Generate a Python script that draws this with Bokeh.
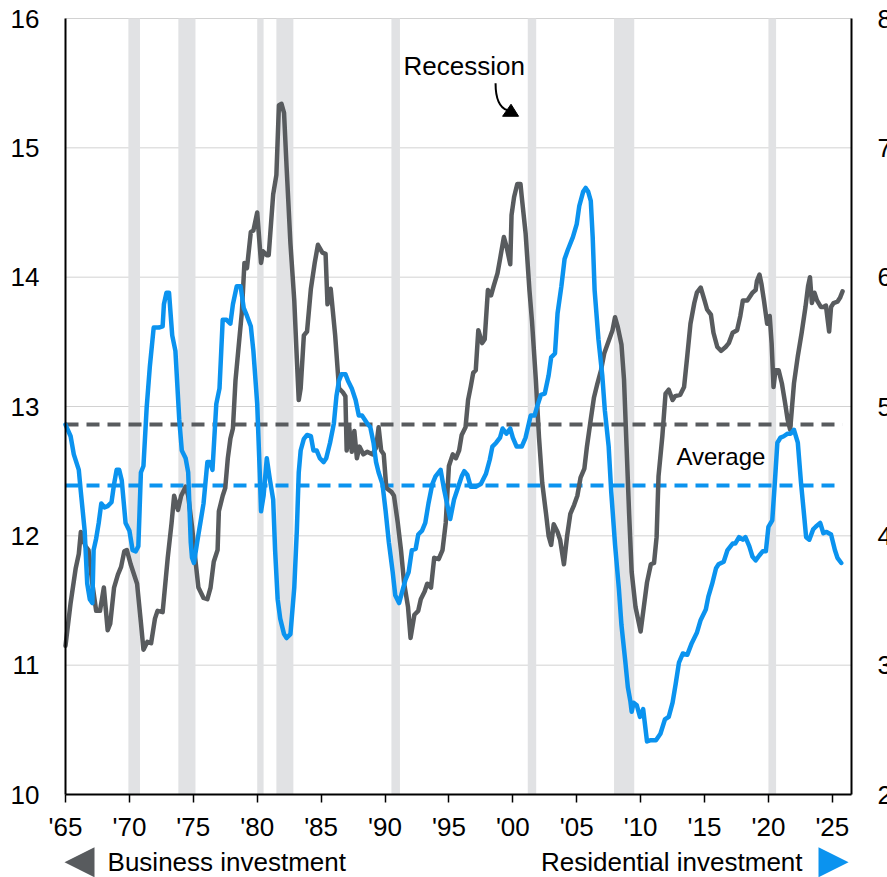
from bokeh.plotting import figure
from bokeh.models import Range1d, LinearAxis, FixedTicker, Label
from bokeh.embed import file_html
from bokeh.resources import INLINE

# ---------------- data ----------------
bus_years = [1965.0, 1965.4, 1965.8, 1966.04, 1966.2, 1966.56, 1966.8, 1967.1, 1967.4, 1967.7,
             1968.0, 1968.3, 1968.5, 1968.8, 1969.1, 1969.35, 1969.6, 1969.8, 1970.1, 1970.6,
             1970.9, 1971.1, 1971.4, 1971.7, 1972.0, 1972.2, 1972.6, 1973.0, 1973.3, 1973.5,
             1973.8, 1974.05, 1974.4, 1974.6, 1974.9, 1975.2, 1975.4, 1975.8, 1976.1, 1976.35,
             1976.6, 1976.9, 1977.0, 1977.3, 1977.5, 1977.7, 1977.9, 1978.1, 1978.3, 1978.6,
             1978.8, 1979.0, 1979.2, 1979.5, 1979.7, 1980.0, 1980.3, 1980.45, 1980.75, 1980.9,
             1981.25, 1981.5, 1981.7, 1981.9, 1982.1, 1982.3, 1982.6, 1982.9, 1983.1, 1983.25,
             1983.4, 1983.65, 1983.9, 1984.2, 1984.5, 1984.75, 1985.1, 1985.35, 1985.5, 1985.75,
             1986.1, 1986.4, 1986.7, 1986.9, 1987.0, 1987.2, 1987.4, 1987.6, 1987.8, 1988.0,
             1988.3, 1988.6, 1989.0, 1989.3, 1989.5, 1989.7, 1989.9, 1990.1, 1990.5, 1990.7,
             1991.0, 1991.25, 1991.5, 1991.8, 1992.0, 1992.3, 1992.6, 1992.8, 1993.1, 1993.3,
             1993.6, 1993.85, 1994.2, 1994.5, 1994.75, 1995.0, 1995.3, 1995.55, 1995.8, 1996.0,
             1996.3, 1996.5, 1996.7, 1996.9, 1997.1, 1997.3, 1997.6, 1997.8, 1998.05, 1998.3,
             1998.5, 1998.8, 1999.0, 1999.3, 1999.5, 1999.8, 1999.9, 2000.1, 2000.35, 2000.6,
             2000.7, 2001.0, 2001.3, 2001.5, 2001.8, 2002.05, 2002.3, 2002.6, 2002.8, 2003.0,
             2003.2, 2003.5, 2003.7, 2004.0, 2004.25, 2004.5, 2004.8, 2005.05, 2005.3, 2005.6,
             2005.8, 2006.1, 2006.35, 2006.6, 2006.9, 2007.15, 2007.4, 2007.8, 2008.0, 2008.2,
             2008.5, 2008.7, 2008.9, 2009.1, 2009.3, 2009.6, 2010.0, 2010.25, 2010.5, 2010.8,
             2011.05, 2011.25, 2011.4, 2011.7, 2011.95, 2012.2, 2012.5, 2012.7, 2013.1, 2013.4,
             2013.65, 2013.9, 2014.2, 2014.4, 2014.7, 2015.0, 2015.2, 2015.5, 2015.7, 2016.0,
             2016.3, 2016.65, 2016.9, 2017.2, 2017.55, 2017.8, 2018.0, 2018.35, 2018.75, 2019.0,
             2019.1, 2019.3, 2019.45, 2019.65, 2019.9, 2020.1, 2020.25, 2020.4, 2020.55, 2020.8,
             2021.05, 2021.3, 2021.5, 2021.7, 2021.85, 2022.0, 2022.3, 2022.6, 2022.9, 2023.1,
             2023.25, 2023.4, 2023.6, 2023.8, 2024.1, 2024.3, 2024.5, 2024.75, 2024.9, 2025.1,
             2025.4, 2025.6, 2025.8]
business = [11.15, 11.48, 11.75, 11.86, 12.03, 11.92, 11.89, 11.63, 11.42, 11.42,
            11.60, 11.27, 11.32, 11.60, 11.70, 11.76, 11.88, 11.89, 11.78, 11.63,
            11.33, 11.12, 11.18, 11.17, 11.36, 11.42, 11.41, 11.83, 12.10, 12.31,
            12.20, 12.31, 12.38, 12.31, 12.07, 11.78, 11.60, 11.52, 11.51, 11.60,
            11.80, 11.89, 12.19, 12.31, 12.37, 12.60, 12.75, 12.83, 13.20, 13.52,
            13.73, 14.11, 14.07, 14.35, 14.36, 14.50, 14.11, 14.20, 14.17, 14.17,
            14.64, 14.79, 15.33, 15.34, 15.27, 14.85, 14.26, 13.82, 13.37, 13.05,
            13.14, 13.55, 13.58, 13.91, 14.11, 14.25, 14.19, 14.18, 13.79, 13.91,
            13.55, 13.14, 13.11, 13.08, 12.66, 12.84, 12.65, 12.81, 12.60, 12.69,
            12.63, 12.65, 12.63, 12.68, 12.84, 12.66, 12.63, 12.37, 12.34, 12.31,
            12.10, 11.89, 11.63, 11.45, 11.21, 11.39, 11.42, 11.51, 11.57, 11.63,
            11.60, 11.83, 11.82, 11.89, 12.10, 12.54, 12.63, 12.60, 12.66, 12.78,
            12.84, 13.05, 13.15, 13.26, 13.28, 13.59, 13.49, 13.52, 13.90, 13.86,
            13.93, 14.03, 14.14, 14.31, 14.24, 14.10, 14.48, 14.62, 14.72, 14.72,
            14.62, 14.34, 13.90, 13.66, 13.21, 12.76, 12.41, 12.17, 12.00, 11.93,
            12.09, 12.03, 11.97, 11.78, 12.00, 12.17, 12.24, 12.31, 12.45, 12.52,
            12.69, 12.90, 13.07, 13.17, 13.28, 13.41, 13.48, 13.59, 13.69, 13.62,
            13.48, 13.21, 12.69, 12.17, 11.72, 11.45, 11.26, 11.45, 11.64, 11.78,
            11.79, 11.99, 12.46, 12.77, 13.10, 13.13, 13.05, 13.08, 13.09, 13.15,
            13.39, 13.64, 13.80, 13.88, 13.92, 13.82, 13.75, 13.71, 13.57, 13.46,
            13.43, 13.46, 13.49, 13.57, 13.59, 13.70, 13.82, 13.82, 13.88, 13.90,
            13.97, 14.02, 13.95, 13.82, 13.64, 13.70, 13.49, 13.15, 13.28, 13.28,
            13.18, 13.03, 12.90, 12.82, 13.00, 13.18, 13.39, 13.57, 13.77, 13.93,
            14.00, 13.80, 13.88, 13.82, 13.77, 13.77, 13.78, 13.58, 13.77, 13.80,
            13.81, 13.84, 13.89]

res_years = [1965.0, 1965.4, 1965.65, 1966.04, 1966.2, 1966.5, 1966.7, 1966.9, 1967.1, 1967.2,
             1967.4, 1967.6, 1967.8, 1968.05, 1968.3, 1968.6, 1968.8, 1969.0, 1969.2, 1969.4,
             1969.7, 1970.0, 1970.25, 1970.5, 1970.7, 1970.9, 1971.1, 1971.35, 1971.6, 1971.9,
             1972.3, 1972.6, 1972.7, 1972.9, 1973.1, 1973.35, 1973.6, 1973.9, 1974.1, 1974.4,
             1974.6, 1974.8, 1974.9, 1975.05, 1975.3, 1975.6, 1975.8, 1976.1, 1976.3, 1976.5,
             1976.8, 1977.05, 1977.3, 1977.6, 1977.9, 1978.1, 1978.4, 1978.7, 1978.95, 1979.2,
             1979.5, 1979.7, 1980.0, 1980.2, 1980.3, 1980.5, 1980.75, 1981.0, 1981.25, 1981.4,
             1981.6, 1981.8, 1982.1, 1982.3, 1982.6, 1982.9, 1983.1, 1983.25, 1983.4, 1983.65,
             1983.9, 1984.2, 1984.4, 1984.65, 1984.9, 1985.2, 1985.4, 1985.7, 1986.0, 1986.2,
             1986.4, 1986.6, 1986.9, 1987.1, 1987.4, 1987.7, 1987.95, 1988.2, 1988.6, 1988.85,
             1989.1, 1989.3, 1989.5, 1989.8, 1990.05, 1990.3, 1990.6, 1990.8, 1991.1, 1991.35,
             1991.6, 1991.85, 1992.1, 1992.4, 1992.6, 1992.9, 1993.15, 1993.4, 1993.7, 1993.95,
             1994.35, 1994.6, 1994.85, 1995.1, 1995.4, 1995.7, 1996.0, 1996.2, 1996.45, 1996.7,
             1997.1, 1997.5, 1997.9, 1998.2, 1998.4, 1998.7, 1999.0, 1999.2, 1999.5, 1999.8,
             2000.0, 2000.3, 2000.7, 2001.0, 2001.4, 2001.7, 2001.9, 2002.2, 2002.5, 2002.8,
             2003.0, 2003.3, 2003.5, 2003.8, 2004.05, 2004.3, 2004.7, 2005.0, 2005.2, 2005.5,
             2005.7, 2005.9, 2006.1, 2006.25, 2006.4, 2006.7, 2007.0, 2007.2, 2007.5, 2007.7,
             2008.0, 2008.3, 2008.5, 2008.8, 2009.0, 2009.2, 2009.3, 2009.45, 2009.7, 2009.95,
             2010.2, 2010.5, 2010.8, 2011.2, 2011.55, 2011.9, 2012.2, 2012.5, 2012.75, 2013.0,
             2013.3, 2013.65, 2014.0, 2014.4, 2014.7, 2015.1, 2015.3, 2015.6, 2015.9, 2016.1,
             2016.5, 2016.8, 2017.2, 2017.4, 2017.7, 2018.0, 2018.2, 2018.5, 2018.75, 2019.0,
             2019.3, 2019.55, 2019.8, 2020.0, 2020.3, 2020.5, 2020.7, 2020.95, 2021.2, 2021.5,
             2021.75, 2022.0, 2022.3, 2022.55, 2022.8, 2022.95, 2023.2, 2023.5, 2023.7, 2024.05,
             2024.3, 2024.55, 2024.9, 2025.2, 2025.4, 2025.7]
residential = [4.86, 4.77, 4.63, 4.51, 4.34, 4.04, 3.63, 3.51, 3.48, 3.89,
               3.98, 4.10, 4.25, 4.22, 4.23, 4.26, 4.40, 4.51, 4.51, 4.43,
               4.10, 4.04, 3.89, 3.88, 3.92, 4.49, 4.54, 4.99, 5.31, 5.61,
               5.61, 5.62, 5.79, 5.88, 5.88, 5.55, 5.43, 4.90, 4.66, 4.60,
               4.49, 3.95, 3.83, 3.79, 3.95, 4.13, 4.25, 4.57, 4.57, 4.51,
               5.02, 5.14, 5.67, 5.67, 5.64, 5.79, 5.93, 5.93, 5.76, 5.70,
               5.62, 5.43, 5.02, 4.49, 4.19, 4.31, 4.60, 4.43, 4.28, 3.89,
               3.51, 3.36, 3.24, 3.21, 3.24, 3.60, 4.04, 4.49, 4.66, 4.75,
               4.78, 4.77, 4.66, 4.66, 4.60, 4.57, 4.60, 4.72, 4.87, 5.08,
               5.20, 5.25, 5.25, 5.20, 5.14, 5.05, 4.93, 4.93, 4.87, 4.84,
               4.72, 4.57, 4.49, 4.40, 4.19, 3.95, 3.72, 3.54, 3.48, 3.57,
               3.66, 3.72, 3.89, 3.90, 4.01, 4.04, 4.10, 4.25, 4.40, 4.46,
               4.51, 4.37, 4.25, 4.13, 4.28, 4.37, 4.46, 4.50, 4.47, 4.38,
               4.38, 4.40, 4.48, 4.59, 4.69, 4.72, 4.76, 4.83, 4.79, 4.83,
               4.76, 4.69, 4.69, 4.76, 4.93, 4.93, 5.00, 5.09, 5.10, 5.24,
               5.38, 5.41, 5.72, 5.93, 6.14, 6.21, 6.31, 6.41, 6.55, 6.66,
               6.69, 6.66, 6.59, 6.31, 5.90, 5.52, 5.24, 4.97, 4.69, 4.34,
               3.93, 3.59, 3.31, 3.03, 2.83, 2.72, 2.64, 2.71, 2.69, 2.60,
               2.66, 2.41, 2.42, 2.42, 2.47, 2.58, 2.60, 2.71, 2.86, 3.02,
               3.09, 3.08, 3.17, 3.25, 3.35, 3.43, 3.53, 3.63, 3.75, 3.78,
               3.80, 3.89, 3.94, 3.94, 3.99, 3.97, 3.99, 3.92, 3.84, 3.81,
               3.85, 3.88, 3.88, 4.07, 4.12, 4.41, 4.72, 4.76, 4.77, 4.79,
               4.79, 4.82, 4.72, 4.41, 4.15, 3.99, 3.97, 4.05, 4.07, 4.10,
               4.02, 4.03, 4.01, 3.89, 3.83, 3.79]

business_avg = 12.86
residential_avg = 4.39

rec_start = [1969.92, 1973.83, 1980.0, 1981.5, 1990.5, 2001.17, 2007.92, 2020.0]
rec_end = [1970.83, 1975.17, 1980.5, 1982.83, 1991.17, 2001.83, 2009.5, 2020.6]

x_ticks = [1965, 1970, 1975, 1980, 1985, 1990, 1995, 2000, 2005, 2010, 2015, 2020, 2025]
x_tick_labels = ["'65", "'70", "'75", "'80", "'85", "'90", "'95", "'00", "'05", "'10", "'15", "'20", "'25"]
left_ticks = [10, 11, 12, 13, 14, 15, 16]
right_ticks = [2, 3, 4, 5, 6, 7, 8]

# ---------------- layout / styles ----------------
X_MIN, X_MAX = 1965, 2026.5          # plotted x extent (axis bounds)
Y_MIN, Y_MAX = 10, 16                # left axis extent
R_OFFSET = 8                         # right axis = left axis - 8
PX_X = 786 / (X_MAX - X_MIN)         # pixels per year
PX_Y = 776 / (Y_MAX - Y_MIN)         # pixels per unit
W, H = 887, 877
LEFT, TOP = 65, 18
x0 = X_MIN - LEFT / PX_X
x1 = X_MAX + (W - LEFT - 786) / PX_X
y1 = Y_MAX + TOP / PX_Y
y0 = Y_MAX - (H - TOP) / PX_Y

GRAY = "#585b5e"
BLUE = "#0b93ef"
BAND = "#e1e2e4"
FONT = "Liberation Sans"

p = figure(width=W, height=H,
           x_range=Range1d(x0, x1), y_range=Range1d(y0, y1),
           output_backend="svg", toolbar_location=None, min_border=0)
p.outline_line_color = None
p.background_fill_color = "white"
p.border_fill_color = "white"
p.extra_y_ranges = {"right": Range1d(y0 - R_OFFSET, y1 - R_OFFSET)}
p.xgrid.visible = False
p.ygrid.visible = False

right_axis = LinearAxis(y_range_name="right")
p.add_layout(right_axis, "right")

left_axis = p.yaxis[0]
left_axis.fixed_location = X_MIN
left_axis.bounds = (Y_MIN, Y_MAX)
left_axis.ticker = FixedTicker(ticks=left_ticks)
left_axis.major_label_standoff = 20
right_axis.fixed_location = X_MAX
right_axis.bounds = (Y_MIN - R_OFFSET, Y_MAX - R_OFFSET)
right_axis.ticker = FixedTicker(ticks=right_ticks)
right_axis.major_label_standoff = 20
for ax in [left_axis, right_axis]:
    ax.major_tick_line_color = None
    ax.minor_tick_line_color = None
    ax.axis_line_color = "black"
    ax.axis_line_width = 2
    ax.major_label_text_font = FONT
    ax.major_label_text_font_size = "26px"
    ax.major_label_text_color = "black"

xa = p.xaxis[0]
xa.fixed_location = Y_MIN
xa.bounds = (X_MIN, X_MAX)
xa.ticker = FixedTicker(ticks=x_ticks)
xa.major_label_overrides = {t: l for t, l in zip(x_ticks, x_tick_labels)}
xa.major_tick_in = 0
xa.major_tick_out = 8
xa.major_tick_line_width = 1.5
xa.major_tick_line_color = "black"
xa.minor_tick_line_color = None
xa.axis_line_color = "black"
xa.axis_line_width = 2
xa.major_label_text_font = FONT
xa.major_label_text_font_size = "26px"
xa.major_label_text_color = "black"
xa.major_label_standoff = 9

# horizontal grid lines at the left-axis ticks
p.segment(x0=X_MIN, x1=X_MAX, y0=left_ticks, y1=left_ticks, line_color="#d2d2d2", line_width=1)

# recession bands
p.quad(left=rec_start, right=rec_end, bottom=Y_MIN, top=Y_MAX, fill_color=BAND, line_color=None)

# averages
p.line([bus_years[0], bus_years[-1]], [business_avg, business_avg], line_color=GRAY,
       line_width=4, line_dash="13 8")
p.line([res_years[0], res_years[-1]], [residential_avg, residential_avg], line_color=BLUE,
       line_width=4, line_dash="13 8", y_range_name="right")

# series
p.line(bus_years, business, line_color=GRAY, line_width=4.5, line_join="round", line_cap="round")
p.line(res_years, residential, line_color=BLUE, line_width=4.5, line_join="round", line_cap="round",
       y_range_name="right")

# annotations
p.add_layout(Label(x=1991.45, y=15.63, text="Recession", text_font=FONT, text_font_size="26px",
                   text_baseline="middle", text_align="left", text_color="black"))
p.bezier(x0=[1998.65], y0=[15.50], x1=[1999.59], y1=[15.29],
         cx0=[1998.65], cy0=[15.37], cx1=[1998.96], cy1=[15.31],
         line_color="black", line_width=2)
p.patch([1999.86, 2000.45, 1999.2], [15.337, 15.244, 15.244], fill_color="black", line_color="black")

p.add_layout(Label(x=2012.8, y=12.615, text="Average", text_font=FONT, text_font_size="24px",
                   text_baseline="middle", text_align="left", text_color="black"))

# bottom legend row (pointers + series names)
LEG_Y = 9.476
p.patch([1964.92, 1967.27, 1967.27], [LEG_Y, LEG_Y + 0.116, LEG_Y - 0.116],
        fill_color=GRAY, line_color=None)
p.add_layout(Label(x=1968.29, y=LEG_Y, text="Business investment", text_font=FONT,
                   text_font_size="26px", text_baseline="middle", text_align="left", text_color="black"))
p.patch([2023.92, 2023.92, 2026.27], [LEG_Y + 0.116, LEG_Y - 0.116, LEG_Y],
        fill_color=BLUE, line_color=None)
p.add_layout(Label(x=2022.67, y=LEG_Y, text="Residential investment", text_font=FONT,
                   text_font_size="26px", text_baseline="middle", text_align="right", text_color="black"))

open("out.html", "w").write(file_html(p, INLINE))
